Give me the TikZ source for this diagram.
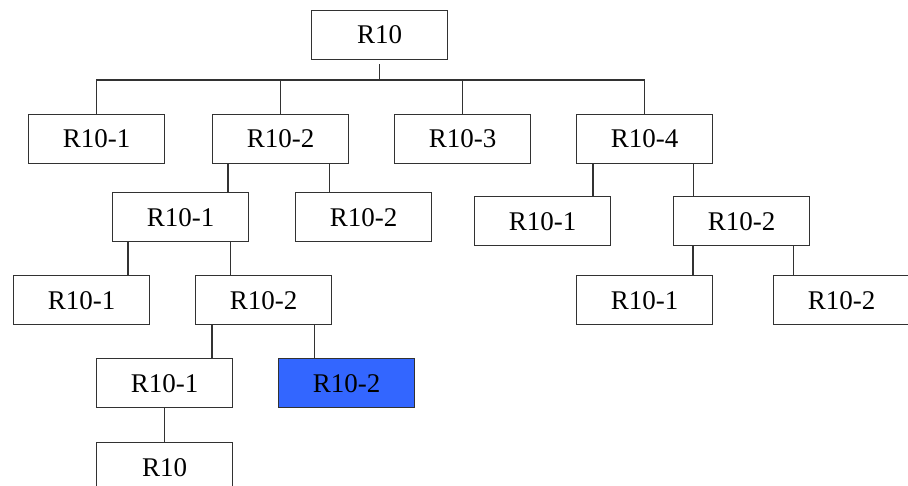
\documentclass[tikz,border=0pt]{standalone}
\usepackage{fontspec}
\setmainfont{Liberation Serif}
\definecolor{edge}{RGB}{50,50,50}
\definecolor{hilite}{RGB}{51,102,255}
\tikzset{
  box/.style={draw=edge, line width=1.3pt, fill=white, rectangle, inner sep=0pt,
    minimum width=136pt, minimum height=49pt, anchor=north west,
    font=\fontsize{27}{31}\selectfont},
  link/.style={draw=edge, line width=1.3pt},
}
\begin{document}
\begin{tikzpicture}[x=1pt, y=-1pt]
\useasboundingbox (0,0) rectangle (908,485);
\clip (0,0) rectangle (908,485);
% boxes, placed by their top-left corner
\node[box] (root) at (311,10)  {R10};
\node[box] (a1)   at (28,114)  {R10-1};
\node[box] (a2)   at (212,114) {R10-2};
\node[box] (a3)   at (394,114) {R10-3};
\node[box] (a4)   at (576,114) {R10-4};
\node[box] (b1)   at (112,192) {R10-1};
\node[box] (b2)   at (295,192) {R10-2};
\node[box] (e1)   at (474,196) {R10-1};
\node[box] (e2)   at (673,196) {R10-2};
\node[box] (c1)   at (13,275)  {R10-1};
\node[box] (c2)   at (195,275) {R10-2};
\node[box] (f1)   at (576,275) {R10-1};
\node[box] (f2)   at (773,275) {R10-2};
\node[box] (d1)   at (96,358)  {R10-1};
\node[box, fill=hilite] (d2) at (278,358) {R10-2};
\node[box] (g)    at (96,442)  {R10};
% root bus
\coordinate (bus) at (378,80);
\draw[link] ([yshift=-4pt]root.south) -- (root.south |- bus);
\draw[link] (a1.north) |- (a4.north |- bus) -- (a4.north);
\draw[link] (a2.north |- bus) -- (a2.north);
\draw[link] (a3.north |- bus) -- (a3.north);
% child links
\draw[link] ([xshift=16pt]a2.south west) -- ([xshift=16pt]a2.south west |- b1.north);
\draw[link] ([xshift=-20pt]a2.south east) -- ([xshift=-20pt]a2.south east |- b2.north);
\draw[link] ([xshift=17pt]a4.south west) -- ([xshift=17pt]a4.south west |- e1.north);
\draw[link] ([xshift=-20pt]a4.south east) -- ([xshift=-20pt]a4.south east |- e2.north);
\draw[link] ([xshift=16pt]b1.south west) -- ([xshift=16pt]b1.south west |- c1.north);
\draw[link] ([xshift=-19pt]b1.south east) -- ([xshift=-19pt]b1.south east |- c2.north);
\draw[link] ([xshift=20pt]e2.south west) -- ([xshift=20pt]e2.south west |- f1.north);
\draw[link] ([xshift=-17pt]e2.south east) -- ([xshift=-17pt]e2.south east |- f2.north);
\draw[link] ([xshift=17pt]c2.south west) -- ([xshift=17pt]c2.south west |- d1.north);
\draw[link] ([xshift=-18pt]c2.south east) -- ([xshift=-18pt]c2.south east |- d2.north);
\draw[link] (d1.south) -- (g.north);
\end{tikzpicture}
\end{document}
